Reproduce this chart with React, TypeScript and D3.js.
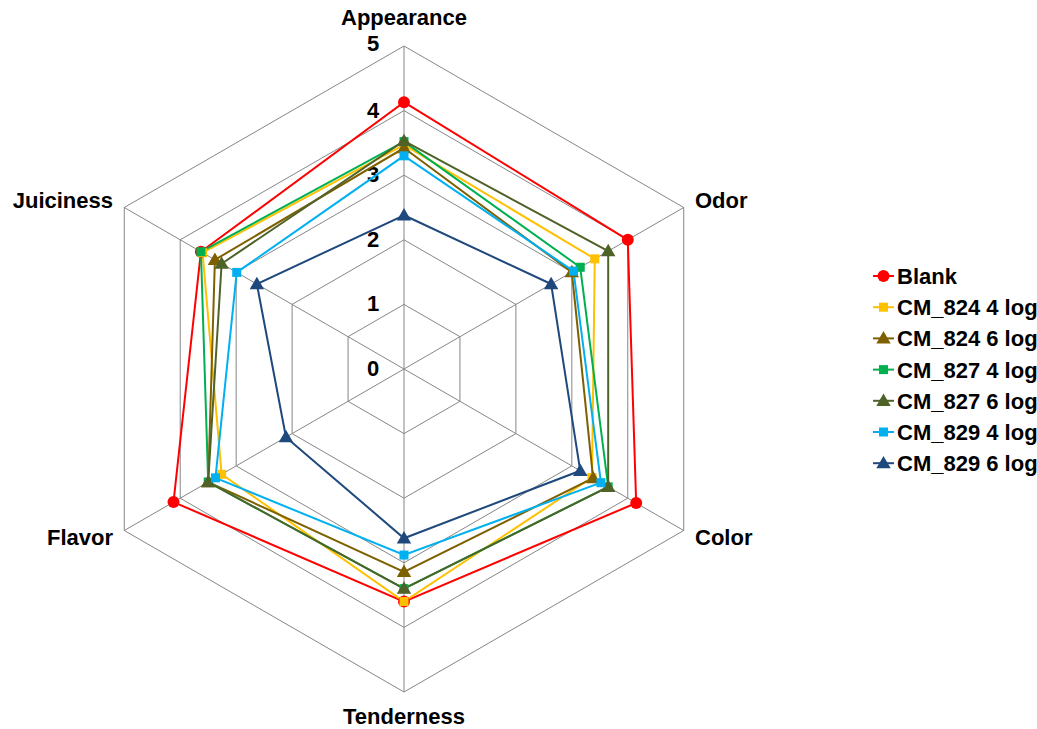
import React from "react";
import * as d3 from "d3";

const axes = ["Appearance", "Odor", "Color", "Tenderness", "Flavor", "Juiciness"];
const ticks = [0, 1, 2, 3, 4, 5];

const seriesNames = [
  "Blank",
  "CM_824 4 log",
  "CM_824 6 log",
  "CM_827 4 log",
  "CM_827 6 log",
  "CM_829 4 log",
  "CM_829 6 log",
];
const blank = [4.13, 4.0, 4.15, 3.6, 4.12, 3.63];
const cm824_4 = [3.47, 3.41, 3.36, 3.6, 3.26, 3.6];
const cm824_6 = [3.42, 3.0, 3.38, 3.14, 3.5, 3.38];
const cm827_4 = [3.52, 3.15, 3.65, 3.4, 3.5, 3.63];
const cm827_6 = [3.53, 3.65, 3.65, 3.4, 3.5, 3.26];
const cm829_4 = [3.3, 3.03, 3.52, 2.88, 3.37, 2.99];
const cm829_6 = [2.38, 2.63, 3.15, 2.62, 2.11, 2.63];

const seriesValues = [blank, cm824_4, cm824_6, cm827_4, cm827_6, cm829_4, cm829_6];
const colors = ["#FF0000", "#FFC000", "#7F6000", "#00B050", "#4F6228", "#00B0F0", "#1F497D"];
const markers = ["circle", "square", "triangle", "square", "triangle", "square", "triangle"];

const cx = 404;
const cy = 369;
const R = 323;
const font = "'Liberation Sans', Arial, sans-serif";
const fs = 22;

const r = d3.scaleLinear().domain([0, 5]).range([0, R]);
const angle = d3
  .scaleLinear()
  .domain([0, axes.length])
  .range([0, 2 * Math.PI]);

const pt = (i: number, v: number): [number, number] => {
  const a = angle(i);
  return [cx + r(v) * Math.sin(a), cy - r(v) * Math.cos(a)];
};

const closed = d3
  .line<[number, number]>()
  .x((d) => d[0])
  .y((d) => d[1])
  .curve(d3.curveLinearClosed);

function Marker({ kind, x, y, color }: { kind: string; x: number; y: number; color: string }) {
  if (kind === "circle") return <circle cx={x} cy={y} r={6} fill={color} />;
  if (kind === "square")
    return <rect x={x - 4.5} y={y - 4.5} width={9} height={9} fill={color} />;
  const s = d3.symbol(d3.symbolTriangle, 90)();
  return <path d={s || ""} transform={`translate(${x},${y + 1})`} fill={color} />;
}

const labelPos: { x: number; y: number; anchor: string }[] = [
  { x: 404, y: 25, anchor: "middle" },
  { x: 695, y: 208, anchor: "start" },
  { x: 695, y: 545, anchor: "start" },
  { x: 404, y: 724, anchor: "middle" },
  { x: 113, y: 545, anchor: "end" },
  { x: 113, y: 208, anchor: "end" },
];

export default function App() {
  return (
    <svg width={1037} height={729} style={{ position: "absolute", left: 0, top: 0 }}>
      <rect width={1037} height={729} fill="#fff" />
      {ticks.slice(1).map((t) => (
        <path
          key={t}
          d={closed(axes.map((_, i) => pt(i, t))) || ""}
          fill="none"
          stroke="#868686"
          strokeWidth={1}
        />
      ))}
      {axes.map((a, i) => {
        const [x, y] = pt(i, 5);
        return <line key={a} x1={cx} y1={cy} x2={x} y2={y} stroke="#868686" strokeWidth={1} />;
      })}
      {ticks.map((t) => (
        <text
          key={t}
          x={cx - 31}
          y={cy - r(t) + 7 - (t === 5 ? 2 : 0)}
          textAnchor="middle"
          fontFamily={font}
          fontWeight="bold"
          fontSize={fs}
        >
          {t}
        </text>
      ))}
      {seriesValues.map((vals, s) => (
        <path
          key={seriesNames[s]}
          d={closed(vals.map((v, i) => pt(i, v))) || ""}
          fill="none"
          stroke={colors[s]}
          strokeWidth={2}
        />
      ))}
      {seriesValues.map((vals, s) =>
        vals.map((v, i) => {
          const [x, y] = pt(i, v);
          return <Marker key={`${s}-${i}`} kind={markers[s]} x={x} y={y} color={colors[s]} />;
        })
      )}
      {axes.map((a, i) => (
        <text
          key={a}
          x={labelPos[i].x}
          y={labelPos[i].y}
          textAnchor={labelPos[i].anchor as any}
          fontFamily={font}
          fontWeight="bold"
          fontSize={fs}
        >
          {a}
        </text>
      ))}
      {seriesNames.map((name, s) => {
        const y = 276 + s * 31.2;
        return (
          <g key={name}>
            <line x1={873} x2={894} y1={y} y2={y} stroke={colors[s]} strokeWidth={2} />
            <Marker kind={markers[s]} x={883.5} y={y} color={colors[s]} />
            <text x={897} y={y + 8} fontFamily={font} fontWeight="bold" fontSize={fs}>
              {name}
            </text>
          </g>
        );
      })}
    </svg>
  );
}
